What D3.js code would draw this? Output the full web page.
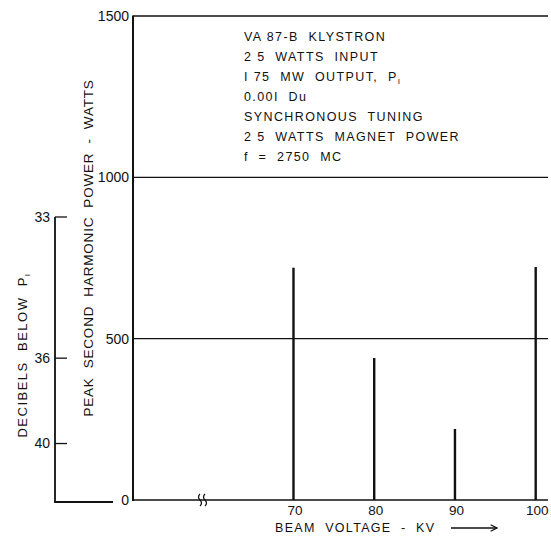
<!DOCTYPE html>
<html>
<head>
<meta charset="utf-8">
<script src="https://cdn.jsdelivr.net/npm/d3@7"></script>
<style>
  html, body { margin: 0; padding: 0; background: #fff; }
  svg { display: block; font-family: "Liberation Sans", Arial, sans-serif; }
  svg text { white-space: pre; }
</style>
</head>
<body>
<svg id="chart" width="551" height="538"></svg>
<script>
// data
const voltages = [70, 80, 90, 100];            // beam voltage, kV
const peakPower = [720, 440, 220, 722];        // peak second harmonic power, W
const powerTicks = [0, 500, 1000, 1500];
const voltageTicks = [70, 80, 90, 100];
const dbTicks = [33, 36, 40];
const fundamentalWatts = 1.75e6;               // P1 reference for dB scale
const infoLines = [
  "VA 87-B  KLYSTRON",
  "2 5  WATTS  INPUT",
  "I 75  MW  OUTPUT,  P",
  "0.00I  Du",
  "SYNCHRONOUS  TUNING",
  "2 5  WATTS  MAGNET  POWER",
  "f  =  2750  MC"
];

const svg = d3.select("#chart");
const ink = "#111";

// scales
let x = d3.scaleLinear().domain([50, 101.4]).range([133, 548]);
let y = d3.scaleLinear().domain([0, 1500]).range([500, 16]);
// dB below P1 -> power -> pixel
let yDb = (db) => y(fundamentalWatts * Math.pow(10, -db / 10));

// gridlines at 500, 1000, 1500
svg.append("g")
  .selectAll("line")
  .data(powerTicks.filter(d => d > 0))
  .join("line")
  .attr("x1", x(50)).attr("x2", x(101.4))
  .attr("y1", d => y(d)).attr("y2", d => y(d))
  .attr("stroke", ink)
  .attr("stroke-width", d => d === 1500 ? 1.4 : 1.2);

// power axis (left)
let powerAxis = svg.append("g")
  .attr("transform", `translate(${x(50)},0)`)
  .call(d3.axisLeft(y).tickValues(powerTicks).tickSize(0).tickPadding(4).tickFormat(d3.format("d")));
powerAxis.select(".domain").remove();
powerAxis.selectAll("text")
  .attr("font-size", 14).attr("fill", ink)
  .attr("font-family", "Liberation Sans, Arial, sans-serif");
svg.append("line")
  .attr("x1", x(50)).attr("x2", x(50))
  .attr("y1", y(1500) - 0.5).attr("y2", y(0) + 1)
  .attr("stroke", ink).attr("stroke-width", 2);

// x axis baseline
svg.append("line")
  .attr("x1", x(50)).attr("x2", x(101.4))
  .attr("y1", y(0)).attr("y2", y(0))
  .attr("stroke", ink).attr("stroke-width", 1.6);

// axis break mark
let bx = 200, by = y(0);
[0, 5].forEach(off => {
  svg.append("path")
    .attr("d", `M${bx + off},${by - 6} q-3,3 0,6 q3,3 0,6`)
    .attr("fill", "none").attr("stroke", ink).attr("stroke-width", 1.2);
});

let xAxis = svg.append("g")
  .attr("transform", `translate(0,${y(0)})`)
  .call(d3.axisBottom(x).tickValues(voltageTicks).tickSize(0).tickPadding(5).tickFormat(d3.format("d")));
xAxis.select(".domain").remove();
xAxis.selectAll("text")
  .attr("font-size", 13.5).attr("fill", ink)
  .attr("font-family", "Liberation Sans, Arial, sans-serif");

// bars (spikes)
svg.append("g")
  .selectAll("line")
  .data(voltages.map((v, i) => ({ v, p: peakPower[i] })))
  .join("line")
  .attr("x1", d => x(d.v) - 1).attr("x2", d => x(d.v) - 1)
  .attr("y1", y(0)).attr("y2", d => y(d.p))
  .attr("stroke", ink).attr("stroke-width", 2.4);

// decibel axis (far left)
let dbX = 55;
let dbG = svg.append("g");
dbG.append("path")
  .attr("d", `M${dbX},${yDb(33)} V${y(0) + 2} H113`)
  .attr("fill", "none").attr("stroke", ink).attr("stroke-width", 1.8);
dbG.selectAll("line.tick")
  .data(dbTicks)
  .join("line")
  .attr("class", "tick")
  .attr("x1", dbX).attr("x2", dbX + 12)
  .attr("y1", d => yDb(d)).attr("y2", d => yDb(d))
  .attr("stroke", ink).attr("stroke-width", 1.3);
dbG.selectAll("text")
  .data(dbTicks)
  .join("text")
  .attr("x", dbX - 5).attr("y", d => yDb(d))
  .attr("dy", "0.35em")
  .attr("text-anchor", "end")
  .attr("font-size", 14).attr("fill", ink)
  .text(d => d);

// axis titles
svg.append("text")
  .attr("transform", "translate(93,248) rotate(-90)")
  .attr("text-anchor", "middle")
  .attr("font-size", 13.5).attr("letter-spacing", 0.8).attr("fill", ink)
  .text("PEAK  SECOND  HARMONIC  POWER  -  WATTS");

let dbTitle = svg.append("text")
  .attr("transform", "translate(27,355) rotate(-90)")
  .attr("text-anchor", "middle")
  .attr("font-size", 13).attr("letter-spacing", 1.5).attr("fill", ink);
dbTitle.append("tspan").text("DECIBELS  BELOW  P");
dbTitle.append("tspan").attr("font-size", 8).attr("dy", 3).text("I");

svg.append("text")
  .attr("x", 275).attr("y", 532)
  .attr("font-size", 12.5).attr("letter-spacing", 1.3).attr("fill", ink)
  .text("BEAM  VOLTAGE  -  KV");

// arrow
svg.append("defs").append("marker")
  .attr("id", "arrow").attr("viewBox", "0 0 10 10")
  .attr("refX", 9).attr("refY", 5)
  .attr("markerWidth", 8).attr("markerHeight", 8)
  .attr("markerUnits", "userSpaceOnUse")
  .attr("orient", "auto")
  .append("path")
  .attr("d", "M1,1 L9,5 L1,9")
  .attr("fill", "none").attr("stroke", ink).attr("stroke-width", 1.4);
svg.append("line")
  .attr("x1", 451).attr("x2", 497)
  .attr("y1", 528).attr("y2", 528)
  .attr("stroke", ink).attr("stroke-width", 1.3)
  .attr("marker-end", "url(#arrow)");

// info block
let info = svg.append("g");
infoLines.forEach((line, i) => {
  let t = info.append("text")
    .attr("x", 244).attr("y", 41 + i * 20)
    .attr("font-size", 12.5).attr("letter-spacing", 1.4).attr("fill", ink)
    .text(line);
  if (i === 2) {
    t.append("tspan").attr("font-size", 8).attr("dy", 3).text("I");
  }
});
</script>
</body>
</html>
